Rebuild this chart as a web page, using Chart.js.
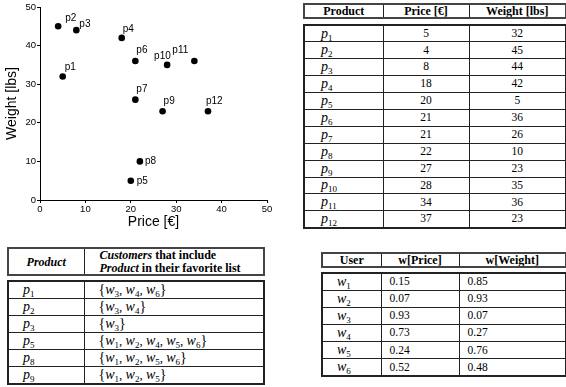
<!DOCTYPE html>
<html>
<head>
<meta charset="utf-8">
<script src="https://cdn.jsdelivr.net/npm/chart.js@4.4.1/dist/chart.umd.min.js"></script>
<style>
  html, body { margin:0; padding:0; background:#fff; }
  body { width:566px; height:387px; position:relative; overflow:hidden; font-family:"Liberation Serif", serif; color:#000; }
  #chartBox { position:absolute; left:0; top:0; width:285px; height:235px; }
  table { position:absolute; border-collapse:collapse; table-layout:fixed; }
  td, th { border:1px solid #222; padding:0; overflow:hidden; white-space:nowrap; line-height:1; }
  table.hdr { border:2px solid #444; }
  table.body { border:2px solid #222; }
  th { font-weight:bold; font-size:12px; text-align:center; }
  td { font-size:11.5px; }
  .m { font-style:italic; font-size:14px; }
  .m sub { font-style:normal; font-size:9px; vertical-align:-3px; line-height:0; }
  .c { text-align:center; }
  .l { text-align:left; }
</style>
</head>
<body>
<div id="chartBox"><canvas id="c"></canvas></div>

<table class="hdr" id="t1h" style="left:303px; top:3px; width:262px; height:15px;">
  <colgroup><col style="width:79px"><col style="width:86px"><col style="width:97px"></colgroup>
  <tr><th>Product</th><th>Price [€]</th><th>Weight [lbs]</th></tr>
</table>
<table class="body" id="t1" style="left:303px; top:24px; width:262px;">
  <colgroup><col style="width:79px"><col style="width:86px"><col style="width:97px"></colgroup>
</table>

<table class="hdr" id="t3h" style="left:7px; top:247px; width:256px; height:28px;">
  <colgroup><col style="width:76px"><col style="width:180px"></colgroup>
  <tr style="height:26px"><th><i>Product</i></th><th style="text-align:left; padding-left:15px; line-height:12.5px;"><i>Customers</i> that include<br><i>Product</i> in their favorite list</th></tr>
</table>
<table class="body" id="t3" style="left:7px; top:280px; width:256px;">
  <colgroup><col style="width:76px"><col style="width:180px"></colgroup>
</table>

<table class="hdr" id="t4h" style="left:321px; top:252px; width:244px; height:15px;">
  <colgroup><col style="width:59px"><col style="width:78px"><col style="width:107px"></colgroup>
  <tr><th>User</th><th>w[Price]</th><th>w[Weight]</th></tr>
</table>
<table class="body" id="t4" style="left:321px; top:272px; width:244px;">
  <colgroup><col style="width:59px"><col style="width:78px"><col style="width:107px"></colgroup>
</table>

<script>
// ---- data ----
const products = ['p1','p2','p3','p4','p5','p6','p7','p8','p9','p10','p11','p12'];
const prices   = [5, 4, 8, 18, 20, 21, 21, 22, 27, 28, 34, 37];
const weights  = [32, 45, 44, 42, 5, 36, 26, 10, 23, 35, 36, 23];
const xTicks   = [0, 10, 20, 30, 40, 50];
const yTicks   = [0, 10, 20, 30, 40, 50];

const favProducts = ['p1','p2','p3','p5','p8','p9'];
const favCustomers = [
  ['w3','w4','w6'],
  ['w3','w4'],
  ['w3'],
  ['w1','w2','w4','w5','w6'],
  ['w1','w2','w5','w6'],
  ['w1','w2','w5']
];

const users   = ['w1','w2','w3','w4','w5','w6'];
const wPrice  = ['0.15','0.07','0.93','0.73','0.24','0.52'];
const wWeight = ['0.85','0.93','0.07','0.27','0.76','0.48'];

// ---- helpers ----
function mathSym(s) {
  return '<span class="m">' + s[0] + '<sub>' + s.slice(1) + '</sub></span>';
}

// Table 1
(function(){
  const t = document.getElementById('t1');
  products.forEach((p, i) => {
    const tr = document.createElement('tr');
    tr.style.height = '16.9px';
    tr.innerHTML = '<td class="l" style="padding-left:16px">' + mathSym(p) + '</td>' +
                   '<td class="c">' + prices[i] + '</td>' +
                   '<td class="c">' + weights[i] + '</td>';
    t.appendChild(tr);
  });
})();

// Table 3
(function(){
  const t = document.getElementById('t3');
  favProducts.forEach((p, i) => {
    const tr = document.createElement('tr');
    tr.style.height = '17.2px';
    const set = '<span style="font-size:14px">{</span>' +
      favCustomers[i].map(mathSym).join('<span style="font-size:13px">, </span>') +
      '<span style="font-size:14px">}</span>';
    tr.innerHTML = '<td class="l" style="padding-left:14px">' + mathSym(p) + '</td>' +
                   '<td class="l" style="padding-left:14px">' + set + '</td>';
    t.appendChild(tr);
  });
})();

// Table 4
(function(){
  const t = document.getElementById('t4');
  users.forEach((u, i) => {
    const tr = document.createElement('tr');
    tr.style.height = '17.2px';
    tr.innerHTML = '<td class="l" style="padding-left:14px">' + mathSym(u) + '</td>' +
                   '<td class="l" style="padding-left:8px">' + wPrice[i] + '</td>' +
                   '<td class="l" style="padding-left:8px">' + wWeight[i] + '</td>';
    t.appendChild(tr);
  });
})();

// ---- chart ----
const labelPlugin = {
  id: 'pointNames',
  afterDatasetsDraw(chart, args, opts) {
    const ctx = chart.ctx;
    const meta = chart.getDatasetMeta(0);
    ctx.save();
    ctx.font = '10px "Liberation Sans", Arial, sans-serif';
    ctx.fillStyle = '#000';
    ctx.textBaseline = 'middle';
    ctx.textAlign = 'left';
    meta.data.forEach((el, i) => {
      const off = opts.offsets[i];
      ctx.fillText(products[i], el.x + off[0], el.y + off[1]);
    });
    ctx.restore();
  }
};

const fontFam = '"Liberation Sans", Arial, sans-serif';
new Chart(document.getElementById('c'), {
  type: 'scatter',
  data: {
    datasets: [{
      data: products.map((p, i) => ({ x: prices[i], y: weights[i] })),
      backgroundColor: '#000',
      borderColor: '#000',
      borderWidth: 0,
      pointRadius: 3.3,
      pointHoverRadius: 3.3
    }]
  },
  options: {
    responsive: true,
    maintainAspectRatio: false,
    animation: false,
    events: [],
    layout: { padding: { top: 7, right: 18, left: 0, bottom: 0 } },
    plugins: {
      legend: { display: false },
      tooltip: { enabled: false },
      pointNames: {
        offsets: [[2,-9],[7,-8],[3,-6],[1,-9],[6,1],[1,-11],[1,-10],[5,0],[1,-10],[-13,-9],[-22,-11],[-2,-10]]
      }
    },
    scales: {
      x: {
        type: 'linear', min: 0, max: 50,
        afterBuildTicks(s) { s.ticks = xTicks.map(v => ({ value: v })); },
        afterFit(s) { s.height = 35; },
        ticks: { color: '#000', font: { family: fontFam, size: 9.5 }, padding: 1, maxRotation: 0, autoSkip: false },
        grid: { display: true, drawOnChartArea: false, drawTicks: true, tickLength: 3, color: '#000', lineWidth: 1 },
        border: { display: true, color: '#000', width: 1 },
        title: { display: true, text: 'Price [€]', color: '#000', font: { family: fontFam, size: 14 }, padding: { top: 0, bottom: 4 } }
      },
      y: {
        type: 'linear', min: 0, max: 50,
        afterBuildTicks(s) { s.ticks = yTicks.map(v => ({ value: v })); },
        afterFit(s) { s.width = 40; },
        ticks: { color: '#000', font: { family: fontFam, size: 9.5 }, padding: 1, autoSkip: false },
        grid: { display: true, drawOnChartArea: false, drawTicks: true, tickLength: 3, color: '#000', lineWidth: 1 },
        border: { display: true, color: '#000', width: 1 },
        title: { display: true, text: 'Weight [lbs]', color: '#000', font: { family: fontFam, size: 14 }, padding: { top: 4, bottom: 0 } }
      }
    }
  },
  plugins: [labelPlugin]
});
</script>
</body>
</html>
